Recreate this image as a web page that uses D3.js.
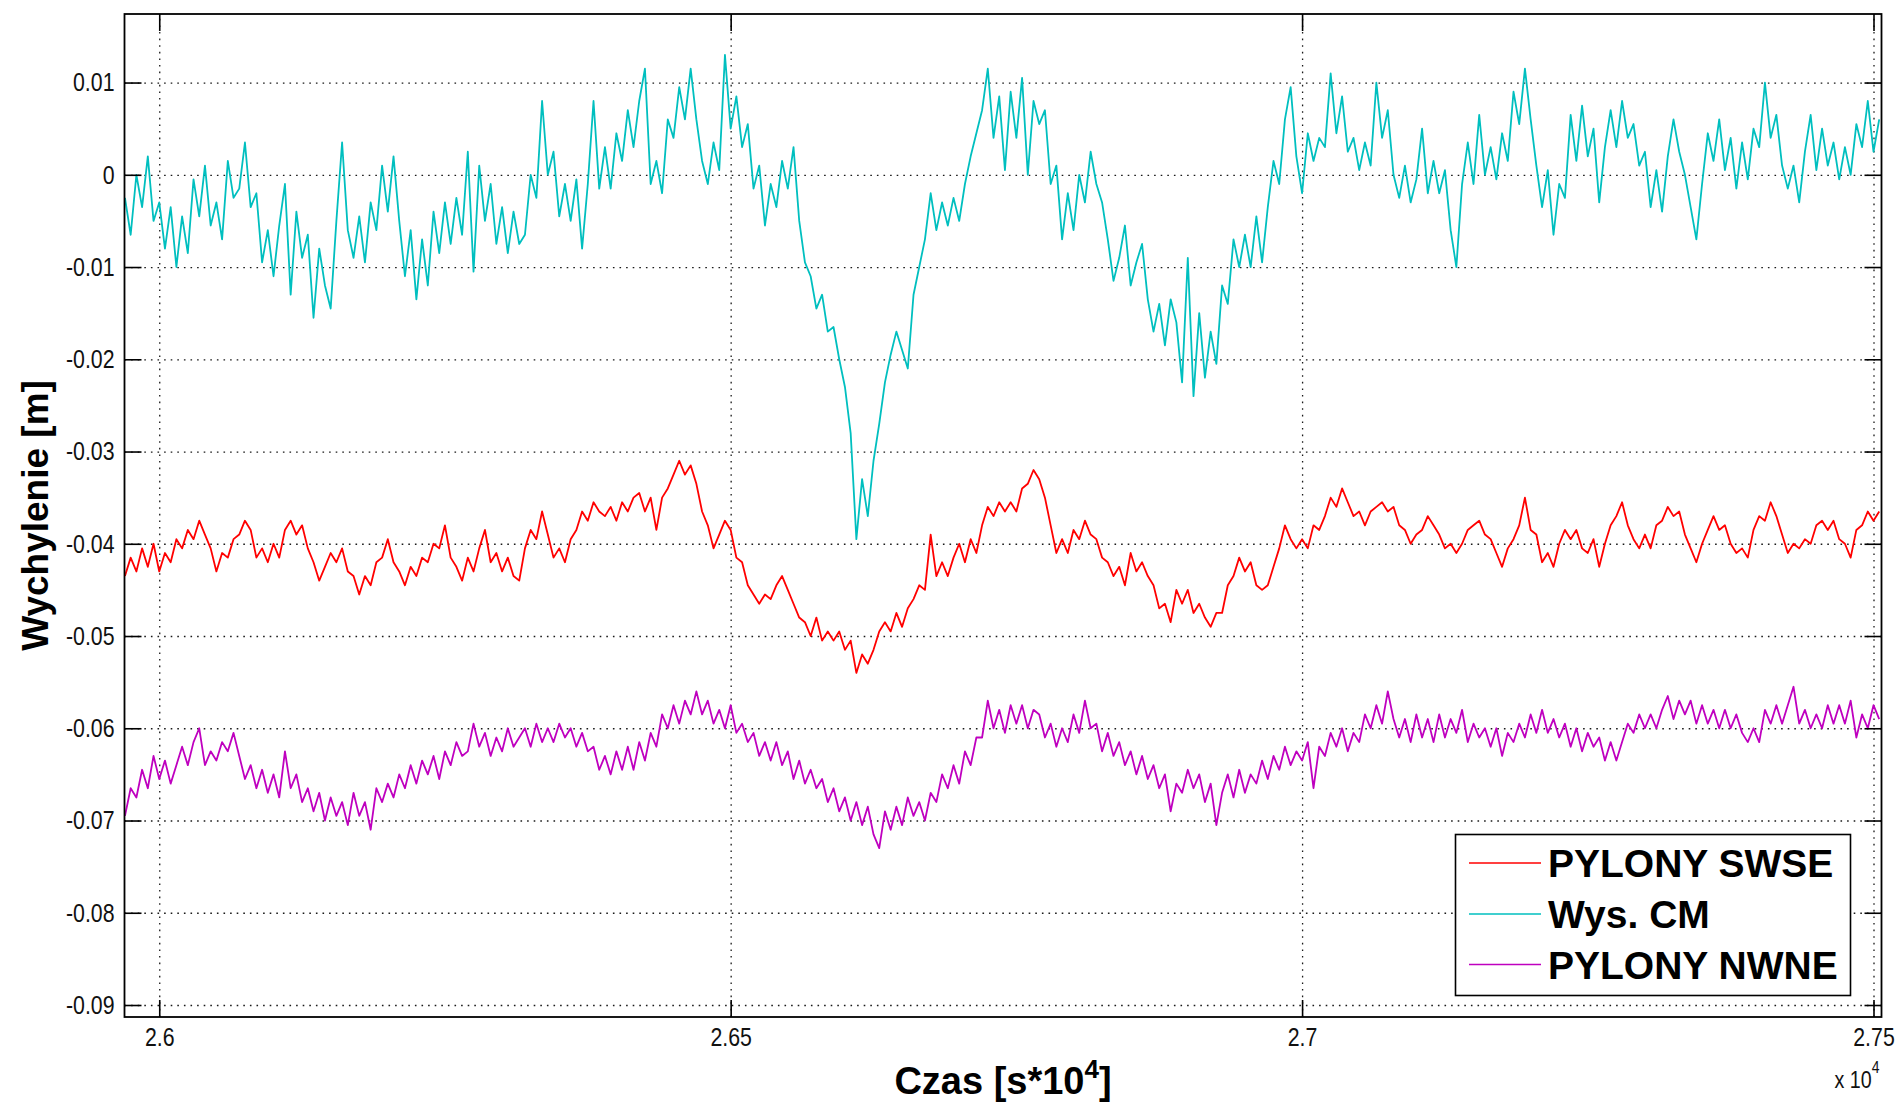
<!DOCTYPE html>
<html>
<head>
<meta charset="utf-8">
<script src="https://cdn.jsdelivr.net/npm/d3@7"></script>
<style>
  html, body { margin: 0; padding: 0; background: #fff; }
  svg { display: block; }
</style>
</head>
<body>
<svg id="chart" width="1899" height="1107"></svg>
<script>
// Sampling of the records: start time and step, in units of 10^4 s
const t0 = 2.597;
const dt = 0.0005;

const xTicks = [2.6, 2.65, 2.7, 2.75];
const yTicks = [0.01, 0, -0.01, -0.02, -0.03, -0.04, -0.05, -0.06, -0.07, -0.08, -0.09];

const seriesNames = ["PYLONY SWSE", "Wys. CM", "PYLONY NWNE"];
const seriesColors = ["#ff0000", "#00bfbf", "#bf00bf"];

// Deflection records in millimetres, one value per sample
const swseMm = [
  -43.5, -41.5, -43, -40.5, -42.5, -40, -43, -41, -42, -39.5,
  -40.5, -38.5, -39.5, -37.5, -39, -40.5, -43, -41, -41.5, -39.5,
  -39, -37.5, -38.5, -41.5, -40.5, -42, -40, -41.5, -38.5, -37.5,
  -39, -38, -40.5, -42, -44, -42.5, -41, -42, -40.5, -43,
  -43.5, -45.5, -43.5, -44.5, -42, -41.5, -39.5, -42, -43, -44.5,
  -42.5, -43.5, -41.5, -42, -40, -40.5, -38, -41.5, -42.5, -44,
  -41.5, -43, -40.5, -38.5, -42, -41, -43, -41.5, -43.5, -44,
  -40.5, -38.5, -39.5, -36.5, -39, -41.5, -40.5, -42, -39.5, -38.5,
  -36.5, -37.5, -35.5, -36.5, -37, -36, -37.5, -35.5, -36.5, -35,
  -34.5, -36.5, -35, -38.5, -35, -34, -32.5, -31, -32.5, -31.5,
  -33.5, -36.5, -38, -40.5, -39, -37.5, -38.5, -41.5, -42, -44.5,
  -45.5, -46.5, -45.5, -46, -44.5, -43.5, -45, -46.5, -48, -48.5,
  -50, -48, -50.5, -49.5, -50.5, -49.5, -51.5, -50.5, -54, -52,
  -53, -51.5, -49.5, -48.5, -49.5, -47.5, -49, -47, -46, -44.5,
  -45, -39, -43.5, -42, -43.5, -41.5, -40, -42, -39.5, -41,
  -38, -36, -37, -35.5, -36.5, -35.5, -36.5, -34, -33.5, -32,
  -33, -35, -38, -41, -39.5, -41, -38.5, -39.5, -37.5, -39,
  -39.5, -41.5, -42, -43.5, -42.5, -44.5, -41, -43, -42, -43.5,
  -44.5, -47, -46.5, -48.5, -45, -46.5, -45, -47.5, -46.5, -48,
  -49, -47.5, -47.5, -44.5, -43.5, -41.5, -43, -42, -44.5, -45,
  -44.5, -42.5, -40.5, -38, -39.5, -40.5, -39.5, -40.5, -38, -38.5,
  -37, -35, -36, -34, -35.5, -37, -36.5, -38, -36.5, -36,
  -35.5, -36.5, -36, -38, -38.5, -40, -39, -38.5, -37, -38,
  -39, -40.5, -40, -41, -40, -38.5, -38, -37.5, -39, -39.5,
  -41, -42.5, -40.5, -39.5, -38, -35, -38.5, -39, -42, -41,
  -42.5, -40, -38.5, -39.5, -38.5, -40.5, -41, -39.5, -42.5, -40,
  -38, -37, -35.5, -38, -39.5, -40.5, -39, -40.5, -38, -37.5,
  -36, -37, -36.5, -39, -40.5, -42, -40, -38.5, -37, -38.5,
  -38, -40, -41, -40.5, -41.5, -38.5, -37, -37.5, -35.5, -37,
  -39, -41, -40, -40.5, -39.5, -40, -38, -37.5, -38.5, -37.5,
  -39.5, -40, -41.5, -38.5, -38, -36.5, -37.5, -36.5
];

const cmMm = [
  -2.5, -6.5, 0, -3.5, 2, -5, -3, -8, -3.5, -10,
  -4.5, -8.5, -0.5, -4.5, 1, -5.5, -3, -7, 1.5, -2.5,
  -1.5, 3.5, -3.5, -2, -9.5, -6, -11, -5.5, -1, -13,
  -4, -9, -6.5, -15.5, -8, -12, -14.5, -5, 3.5, -6,
  -9, -4.5, -9.5, -3, -6, 1, -4, 2, -5, -11,
  -6, -13.5, -7, -12, -4, -8.5, -3, -7.5, -2.5, -6.5,
  2.5, -10.5, 1, -5, -1, -7.5, -3.5, -8.5, -4, -7.5,
  -6.5, 0, -2.5, 8, 0, 2.5, -4.5, -1, -5, -0.5,
  -8, -1, 8, -1.5, 3, -1.5, 4.5, 1.5, 7, 3,
  8, 11.5, -1, 1.5, -2, 6, 4, 9.5, 6, 11.5,
  6, 1.5, -1, 3.5, 0.5, 13, 5, 8.5, 3, 5.5,
  -1.5, 1, -5.5, -1, -3.5, 1.5, -1.5, 3, -5, -9.5,
  -11, -14.5, -13, -17, -16.5, -20, -23, -28, -39.5, -33,
  -37, -31, -27, -22.5, -19.5, -17, -19, -21, -13, -10,
  -7, -2, -6, -3, -5.5, -2.5, -5, -1, 2, 4.5,
  7, 11.5, 4, 8.5, 0.5, 9, 4, 10.5, 0, 8,
  5.5, 7, -1, 1, -7, -2, -6, 0, -3, 2.5,
  -1, -3, -7, -11.5, -9, -5.5, -12, -9.5, -7.5, -13.5,
  -17, -14, -18.5, -13.5, -16, -22.5, -9, -24, -15, -22,
  -17, -20.5, -12, -14, -7, -10, -6.5, -10, -4.5, -9.5,
  -3.5, 1.5, -1, 6, 9.5, 2, -2, 4.5, 1.5, 4,
  3, 11, 4.5, 8.5, 2.5, 4, 0.5, 3.5, 1, 10,
  4, 7, 0, -2.5, 1, -3, -0.5, 5, -2, 1.5,
  -2, 0.5, -6, -10, -1, 3.5, -1, 6.5, 0, 3,
  -0.5, 4.5, 1.5, 9, 5.5, 11.5, 6, 1, -3.5, 0.5,
  -6.5, -1, -2.5, 6.5, 1.5, 7.5, 2, 5, -3, 3,
  7, 3, 8, 4, 5.5, 1, 2.5, -3.5, 0.5, -4,
  2, 6, 2.5, 0, -3.5, -7, -1, 4.5, 1.5, 6,
  0.5, 4, -1.5, 3.5, -0.5, 5, 3, 10, 4, 6.5,
  1, -1.5, 1, -3, 2.5, 6.5, 0.5, 5, 1, 3.5,
  -0.5, 3, 0, 5.5, 3, 8, 2.5, 6
];

const nwneMm = [
  -69.5, -66.5, -67.5, -64.5, -66.5, -63, -65.5, -63.5, -66, -64,
  -62, -64, -61.5, -60, -64, -62.5, -63.5, -61.5, -62.5, -60.5,
  -63, -65.5, -64, -66.5, -64.5, -67, -65, -67.5, -62.5, -66.5,
  -65, -68, -66.5, -69, -67, -70, -67.5, -69.5, -68, -70.5,
  -67, -69.5, -68, -71, -66.5, -68, -66, -67.5, -65, -66.5,
  -64, -66, -63.5, -65, -63, -65.5, -62.5, -64, -61.5, -63,
  -62.5, -59.5, -62, -60.5, -63, -61, -62.5, -60, -62, -61,
  -60, -62, -59.5, -61.5, -60, -61.5, -59.5, -61, -60, -62,
  -60.5, -62.5, -62, -64.5, -63, -65, -62.5, -64.5, -62, -64.5,
  -61.5, -63.5, -60.5, -62, -58.5, -60, -57.5, -59.5, -57, -58.5,
  -56, -58.5, -57, -59.5, -58, -60, -57.5, -60.5, -59.5, -61.5,
  -60.5, -63, -61.5, -63.5, -61.5, -64, -62.5, -65.5, -63.5, -66,
  -64.5, -66.5, -65.5, -68, -66.5, -69, -67.5, -70, -68, -70.5,
  -68.5, -71.5, -73, -69, -71, -68.5, -70.5, -67.5, -69.5, -68,
  -70, -67, -68, -65, -66.5, -64, -66, -62.5, -64, -61,
  -61, -57, -60, -58, -60.5, -57.5, -59.5, -57.5, -60, -58,
  -58.5, -61, -59.5, -62, -60, -61.5, -58.5, -60.5, -57, -60,
  -59.5, -62.5, -60.5, -63, -61.5, -64, -62.5, -65, -63, -65.5,
  -64, -66.5, -65, -69, -66, -67, -64.5, -66.5, -65, -68,
  -66, -70.5, -67, -65, -67.5, -64.5, -67, -65, -66, -63.5,
  -65.5, -63, -64.5, -62, -64, -62.5, -63.5, -61.5, -66.5, -62,
  -63, -60.5, -62, -60, -62.5, -60.5, -61.5, -58.5, -60, -57.5,
  -59.5, -56, -59, -61, -59, -61.5, -58.5, -61, -59, -61.5,
  -58.5, -61, -59, -60.5, -58, -61.5, -59.5, -61, -60, -62,
  -60, -63, -60.5, -61.5, -59.5, -61, -58.5, -60.5, -58, -60.5,
  -59, -61, -59.5, -62, -60, -62.5, -60.5, -62, -61, -63.5,
  -61.5, -63.5, -61.5, -59.5, -60.5, -58.5, -60, -58.5, -60, -58,
  -56.5, -59, -57, -58.5, -57, -59.5, -57.5, -59.5, -58, -60,
  -58, -60, -58.5, -60.5, -61.5, -60, -61.5, -58, -59.5, -57.5,
  -59.5, -57.5, -55.5, -59.5, -58, -60, -58.5, -60, -57.5, -59.5,
  -57.5, -59.5, -57, -61, -58.5, -60, -57.5, -59
];

const seriesValues = [swseMm, cmMm, nwneMm];

// ---- layout ----
const plot = { left: 124.5, right: 1881.5, top: 14, bottom: 1017 };
const tickLen = 17;

const x = d3.scaleLinear().domain([2.59696, 2.7507]).range([plot.left, plot.right]);
const y = d3.scaleLinear().domain([-0.0913, 0.01743]).range([plot.bottom, plot.top]);

// Narrow face for the tick numbers; fall back to a horizontally squeezed sans
function fontAvailable(name) {
  const c = document.createElement("canvas").getContext("2d");
  const s = "0123456789.-x";
  c.font = "40px monospace";
  const a = c.measureText(s).width;
  c.font = `40px '${name}', monospace`;
  const b = c.measureText(s).width;
  return a !== b;
}
const hasNarrow = fontAvailable("Liberation Sans Narrow");
const tickFont = hasNarrow ? "'Liberation Sans Narrow', 'Arial Narrow', sans-serif" : "'Liberation Sans', Arial, sans-serif";
const squeeze = hasNarrow ? 1 : 0.82;
const labelFont = "'Liberation Sans', Arial, Helvetica, sans-serif";

const svg = d3.select("#chart");

// ---- dotted grid ----
const gridX = svg.append("g")
  .attr("transform", `translate(0,${plot.bottom})`)
  .call(d3.axisBottom(x).tickValues(xTicks).tickSize(-(plot.bottom - plot.top)).tickFormat(""));
const gridY = svg.append("g")
  .attr("transform", `translate(${plot.left},0)`)
  .call(d3.axisLeft(y).tickValues(yTicks).tickSize(-(plot.right - plot.left)).tickFormat(""));
[gridX, gridY].forEach(g => {
  g.select(".domain").remove();
  g.selectAll("line")
    .attr("stroke", "#1a1a1a")
    .attr("stroke-width", 1.3)
    .attr("stroke-dasharray", "1.6,5");
});

// ---- data lines ----
svg.append("clipPath").attr("id", "plot-clip")
  .append("rect")
  .attr("x", plot.left).attr("y", plot.top)
  .attr("width", plot.right - plot.left).attr("height", plot.bottom - plot.top);

const line = d3.line()
  .x((d, i) => x(t0 + dt * i))
  .y(d => y(d / 1000));

svg.append("g").attr("clip-path", "url(#plot-clip)")
  .selectAll("path")
  .data(seriesValues)
  .join("path")
  .attr("d", d => line(d))
  .attr("fill", "none")
  .attr("stroke", (d, i) => seriesColors[i])
  .attr("stroke-width", 1.8)
  .attr("stroke-linejoin", "round");

// ---- axes box and inward ticks on all four sides ----
const fmtY = d => (d === 0 ? "0" : String(+d.toFixed(2)));
const fmtX = d => String(+d.toFixed(2));

function styleTicks(g) {
  g.select(".domain").remove();
  g.selectAll(".tick line").attr("stroke", "#000").attr("stroke-width", 1.6);
}

const axL = svg.append("g")
  .attr("transform", `translate(${plot.left},0)`)
  .call(d3.axisLeft(y).tickValues(yTicks).tickSizeInner(-tickLen).tickSizeOuter(0).tickPadding(10).tickFormat(fmtY));
const axB = svg.append("g")
  .attr("transform", `translate(0,${plot.bottom})`)
  .call(d3.axisBottom(x).tickValues(xTicks).tickSizeInner(-tickLen).tickSizeOuter(0).tickPadding(11).tickFormat(fmtX));
const axR = svg.append("g")
  .attr("transform", `translate(${plot.right},0)`)
  .call(d3.axisRight(y).tickValues(yTicks).tickSizeInner(-tickLen).tickSizeOuter(0).tickFormat(""));
const axT = svg.append("g")
  .attr("transform", `translate(0,${plot.top})`)
  .call(d3.axisTop(x).tickValues(xTicks).tickSizeInner(-tickLen).tickSizeOuter(0).tickFormat(""));
[axL, axB, axR, axT].forEach(styleTicks);

[axL, axB].forEach(g => {
  g.selectAll(".tick text")
    .attr("font-family", tickFont)
    .attr("font-size", 26)
    .attr("fill", "#111");
});
if (squeeze !== 1) {
  axL.selectAll(".tick text").attr("x", -10 / squeeze).attr("transform", `scale(${squeeze},1)`);
  axB.selectAll(".tick text").attr("transform", `scale(${squeeze},1)`);
}

svg.append("rect")
  .attr("x", plot.left).attr("y", plot.top)
  .attr("width", plot.right - plot.left).attr("height", plot.bottom - plot.top)
  .attr("fill", "none").attr("stroke", "#000").attr("stroke-width", 1.8);

// exponent of the x axis
const expo = svg.append("g")
  .attr("transform", `translate(${plot.right - 2},1088) scale(${squeeze},1)`)
  .append("text")
  .attr("text-anchor", "end")
  .attr("font-family", tickFont)
  .attr("fill", "#111");
expo.append("tspan").attr("font-size", 24).text("x 10");
expo.append("tspan").attr("font-size", 17).attr("dy", -15).text("4");

// ---- axis titles ----
const xTitle = svg.append("text")
  .attr("x", (plot.left + plot.right) / 2)
  .attr("y", 1094)
  .attr("text-anchor", "middle")
  .attr("font-family", labelFont)
  .attr("font-weight", "bold")
  .attr("font-size", 38)
  .attr("fill", "#000");
xTitle.append("tspan").text("Czas [s*10");
xTitle.append("tspan").attr("font-size", 26).attr("dy", -16).text("4");
xTitle.append("tspan").attr("dy", 16).text("]");

svg.append("text")
  .attr("transform", `translate(48,${(plot.top + plot.bottom) / 2}) rotate(-90)`)
  .attr("text-anchor", "middle")
  .attr("font-family", labelFont)
  .attr("font-weight", "bold")
  .attr("font-size", 37)
  .attr("fill", "#000")
  .text("Wychylenie [m]");

// ---- legend ----
const legend = svg.append("g");
legend.append("rect")
  .attr("x", 1455.5).attr("y", 834.5)
  .attr("width", 395).attr("height", 161)
  .attr("fill", "#fff").attr("stroke", "#000").attr("stroke-width", 1.6);

const rowBase = [877, 928, 978.5];
const item = legend.selectAll("g.item")
  .data(seriesNames)
  .join("g").attr("class", "item");
item.append("line")
  .attr("x1", 1469).attr("x2", 1541)
  .attr("y1", (d, i) => rowBase[i] - 14).attr("y2", (d, i) => rowBase[i] - 14)
  .attr("stroke", (d, i) => seriesColors[i])
  .attr("stroke-width", 1.6);
item.append("text")
  .attr("x", 1548)
  .attr("y", (d, i) => rowBase[i])
  .attr("font-family", labelFont)
  .attr("font-weight", "bold")
  .attr("font-size", 39)
  .attr("fill", "#000")
  .text(d => d);
</script>
</body>
</html>
